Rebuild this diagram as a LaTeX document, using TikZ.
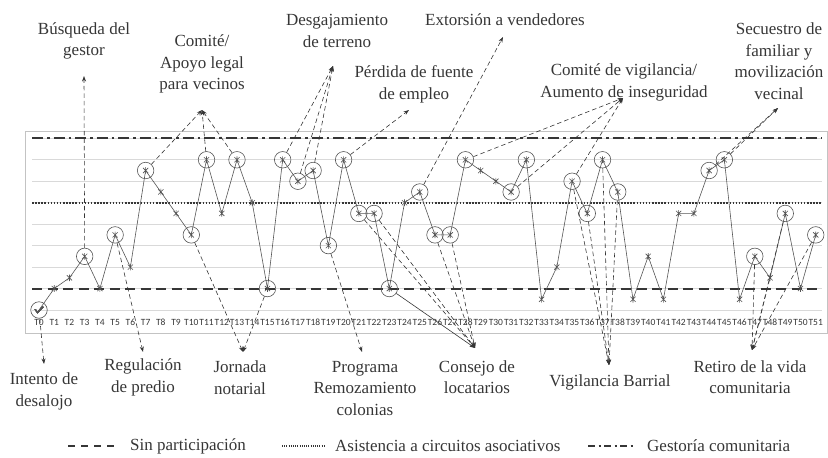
\documentclass[tikz,border=0pt]{standalone}
\usepackage{fontspec}
\setmainfont{Liberation Serif}
\newfontfamily\tickfont{Carlito}
\usepackage{xcolor}
\usetikzlibrary {
  positioning,
  arrows.meta,
}
\definecolor{ink}{HTML}{363636}
\definecolor{pale}{HTML}{D9D9D9}
\tikzset{
  frame/.style = {
    draw = pale!90!black,
    line width = 0.7pt
  },
  gridline/.style = {
    draw = pale,
    line width = 0.9pt
  },
  refline/.style = {
    line width = 2pt,
    color = ink
  },
  serie/.style = {
    line width = 0.6pt,
    color = ink!85
  },
  dato/.style = {
    circle,
    inner sep = 0pt,
    minimum size = 3pt
  },
  ring/.style = {
    dato,
    draw = ink!85,
    line width = 0.6pt,
    minimum size = 16.5pt
  },
  note/.style = {
    -{Stealth[length = 5.5pt, width = 4pt]},
    dash pattern = on 4.5pt off 3pt,
    line width = 0.6pt,
    color = ink
  },
  event/.style = {
    align = center,
    font = \fontsize{17}{21.5}\selectfont,
    text = ink,
    inner sep = 0pt
  },
  ticklabel/.style = {
    font = \tickfont\fontsize{9.5}{10}\selectfont,
    text = ink,
    inner sep = 0pt
  },
}
\newcommand{\asterisk}[1]{
  \draw[serie] (#1) +(-2.6,-2.6) -- +(2.6,2.6) +(-2.6,2.6) -- +(2.6,-2.6)
    +(0,-3.3) -- +(0,3.3);
}

\begin{document}
\begin{tikzpicture}[x = 1pt, y = -1pt]
  \useasboundingbox (0,0) rectangle (828,458);
  % frame, grid and participation levels
  \draw[frame] (25,131) rectangle (827.5,333);
  \foreach \v in {0,...,8}
    \draw[gridline] (32,{310-21.46*\v}) -- (822,{310-21.46*\v});
  \draw[refline, dash pattern = on 10pt off 5.5pt] (32,288.5) -- (822,288.5);
  \draw[refline, line width = 1.8pt, dash pattern = on 1.5pt off 1.6pt]
    (32,202.7) -- (822,202.7);
  \draw[refline, dash pattern = on 11pt off 4pt on 2.5pt off 4pt]
    (32,138.3) -- (822,138.3);
  % series
  \foreach \i/\v/\s in {0/0/ring, 1/1/dato, 2/1.5/dato, 3/2.5/ring, 4/1/dato,
    5/3.5/ring, 6/2/dato, 7/6.5/ring, 8/5.5/dato, 9/4.5/dato, 10/3.5/ring,
    11/7/ring, 12/4.5/dato, 13/7/ring, 14/5/dato, 15/1/ring, 16/7/ring,
    17/6/ring, 18/6.5/ring, 19/3/ring, 20/7/ring, 21/4.5/ring, 22/4.5/ring,
    23/1/ring, 24/5/dato, 25/5.5/ring, 26/3.5/ring, 27/3.5/ring, 28/7/ring,
    29/6.5/dato, 30/6/dato, 31/5.5/ring, 32/7/ring, 33/0.5/dato, 34/2/dato,
    35/6/ring, 36/4.5/ring, 37/7/ring, 38/5.5/ring, 39/0.5/dato, 40/2.5/dato,
    41/0.5/dato, 42/4.5/dato, 43/4.5/dato, 44/6.5/ring, 45/7/ring,
    46/0.5/dato, 47/2.5/ring, 48/1.5/dato, 49/4.5/ring, 50/1/dato,
    51/3.5/ring} {
    \node[\s] (T\i) at ({39+15.23*\i},{310-21.46*\v}) {};
    \node[ticklabel] (L\i) at ({39+15.23*\i},322) {T\i};
  }
  \draw[serie] (T0.center) foreach \i in {1,...,51} { -- (T\i.center) };
  \foreach \i in {1,...,51}
    \asterisk{T\i}
  \draw[serie, line width = 0.8pt] (T0) +(-3.8,-0.5) -- +(-1.2,2.6) -- +(4,-3.2);

  % events above
  \node[event] (gestor) at (84,41) {Búsqueda del\\gestor};
  \node[event] (comite) at (202,64) {Comité/\\Apoyo legal\\para vecinos};
  \node[event] (desgaje) at (337,31) {Desgajamiento\\de terreno};
  \node[event] (empleo) at (414,84.5) {Pérdida de fuente\\de empleo};
  \node[event] (extorsion) at (505,20) {Extorsión a vendedores};
  \node[event] (vigilancia) at (624,82.5) {Comité de vigilancia/\\Aumento de inseguridad};
  \node[event] (secuestro) at (779,61) {Secuestro de\\familiar y\\movilización\\vecinal};
  \coordinate (gestor-tip) at (84,76);
  \coordinate (comite-tip) at (202,110);
  \coordinate (desgaje-tip) at (333,66);
  \coordinate (empleo-tip) at (409,110);
  \coordinate (extorsion-tip) at (503,37);
  \coordinate (vigilancia-tip) at (623,98);
  \coordinate (secuestro-tip) at (778,108);

  % events below
  \node[event] (desalojo) at (44,391.5) {Intento de\\desalojo};
  \node[event] (predio) at (143,377.5) {Regulación\\de predio};
  \node[event] (notarial) at (240,377.5) {Jornada\\notarial};
  \node[event] (programa) at (365,388.5) {Programa\\Remozamiento\\colonias};
  \node[event] (consejo) at (477,377) {Consejo de\\locatarios};
  \node[event] (barrial) at (610,382) {Vigilancia Barrial};
  \node[event] (retiro) at (750,377) {Retiro de la vida\\comunitaria};
  \coordinate (desalojo-tip) at (44,364);
  \coordinate (predio-tip) at (143,352);
  \coordinate (notarial-tip) at (243,352);
  \coordinate (programa-tip) at (362,352);
  \coordinate (consejo-tip) at (475,348);
  \coordinate (barrial-tip) at (609,365);
  \coordinate (retiro-tip) at (752,350);

  % links
  \draw[note] (T3) -- (gestor-tip);
  \foreach \p in {7,11,13}
    \draw[note] (T\p) -- (comite-tip);
  \foreach \p in {16,17,18}
    \draw[note] (T\p) -- (desgaje-tip);
  \draw[note] (T20) -- (empleo-tip);
  \draw[note] (T25) -- (extorsion-tip);
  \foreach \p in {28,31,35}
    \draw[note] (T\p) -- (vigilancia-tip);
  \foreach \p in {44,45}
    \draw[note] (T\p) -- (secuestro-tip);
  \draw[note] (T0) -- (desalojo-tip);
  \draw[note] (T5) -- (predio-tip);
  \foreach \p in {10,15}
    \draw[note] (T\p) -- (notarial-tip);
  \draw[note] (T19) -- (programa-tip);
  \foreach \p in {21,22,26,27}
    \draw[note] (T\p) -- (consejo-tip);
  \draw[note, solid] (T23) -- (consejo-tip);
  \foreach \p in {35,36,37,38}
    \draw[note] (T\p) -- (barrial-tip);
  \foreach \p in {47,48,49,51}
    \draw[note] (T\p) -- (retiro-tip);

  % legend
  \draw[refline, dash pattern = on 7pt off 6pt] (68,446) -- (120,446);
  \node[event, anchor = west] (sinpart) at (130,446) {Sin participación};
  \draw[refline, line width = 1.2pt, dash pattern = on 1pt off 1.2pt]
    (282,446) -- (326,446);
  \node[event, anchor = west] (asist) at (335,446) {Asistencia a circuitos asociativos};
  \draw[refline, dash pattern = on 7pt off 3.5pt on 2pt off 3.5pt]
    (588,446) -- (633,446);
  \node[event, anchor = west] (gestoria) at (647,446) {Gestoría comunitaria};
\end{tikzpicture}
\end{document}
